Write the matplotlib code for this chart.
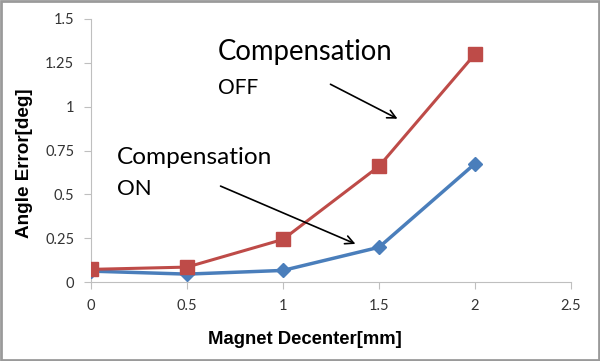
import matplotlib.pyplot as plt
from matplotlib.patches import Rectangle, FancyArrowPatch

decenter = [0, 0.5, 1, 1.5, 2]
err_on = [0.062, 0.045, 0.066, 0.198, 0.675]
err_off = [0.072, 0.085, 0.243, 0.66, 1.30]
xticks = [0, 0.5, 1, 1.5, 2, 2.5]
yticks = [0, 0.25, 0.5, 0.75, 1, 1.25, 1.5]
ytick_labels = ["0", "0.25", "0.5", "0.75", "1", "1.25", "1.5"]

fig = plt.figure(figsize=(6, 3.61), dpi=100)
ax = fig.add_axes([91 / 600, 1 - 282 / 361, 480 / 600, 263 / 361])

ax.plot(decenter, err_on, color="#4a7ebb", lw=2.5, marker="D", ms=7.5, zorder=3)
ax.plot(decenter, err_off, color="#be4b48", lw=2.2, marker="s", ms=9.5, zorder=3)

ax.set_xlim(0, 2.5)
ax.set_ylim(0, 1.5)
ax.set_xticks(xticks)
ax.set_xticklabels([f"{t:g}" for t in xticks])
ax.set_yticks(yticks)
ax.set_yticklabels(ytick_labels)
for s in ["top", "right"]:
    ax.spines[s].set_visible(False)
for s in ["left", "bottom"]:
    ax.spines[s].set_color("#bfbfbf")
    ax.spines[s].set_zorder(1)
ax.tick_params(colors="#bfbfbf", length=5, labelcolor="#333333", labelsize=10.5, pad=7)
for lab in ax.get_xticklabels() + ax.get_yticklabels():
    lab.set_family("Lato")

# axis titles placed like the original
fig.text(305 / 600, 1 - 340 / 361, "Magnet Decenter[mm]", fontsize=13.3, fontweight="bold",
         family="Liberation Sans", ha="center", va="center")
fig.text(25 / 600, 1 - 163 / 361, "Angle Error[deg]", fontsize=13.6, fontweight="bold",
         family="Liberation Sans", ha="center", va="center", rotation=90)

fig.text(218 / 600, 1 - 52 / 361, "Compensation", fontsize=19.8, family="Lato", va="center")
fig.text(218 / 600, 1 - 88 / 361, "OFF", fontsize=15, family="Lato", va="center")
fig.text(117 / 600, 1 - 157 / 361, "Compensation", fontsize=17.6, family="Lato", va="center")
fig.text(117 / 600, 1 - 189 / 361, "ON", fontsize=16, family="Lato", va="center")

fig.add_artist(FancyArrowPatch(
    (328 / 600, 1 - 83 / 361), (400 / 600, 1 - 120 / 361), transform=fig.transFigure,
    arrowstyle="->,head_length=6,head_width=3", color="black", lw=1.2))
fig.add_artist(FancyArrowPatch(
    (218 / 600, 1 - 185 / 361), (358 / 600, 1 - 245 / 361), transform=fig.transFigure,
    arrowstyle="->,head_length=6,head_width=3", color="black", lw=1.2))

fig.add_artist(Rectangle((0.002, 0.003), 0.996, 0.994, transform=fig.transFigure,
                         fill=False, edgecolor="#9a9a9a", lw=2))

fig.savefig("out.png", dpi=100)
